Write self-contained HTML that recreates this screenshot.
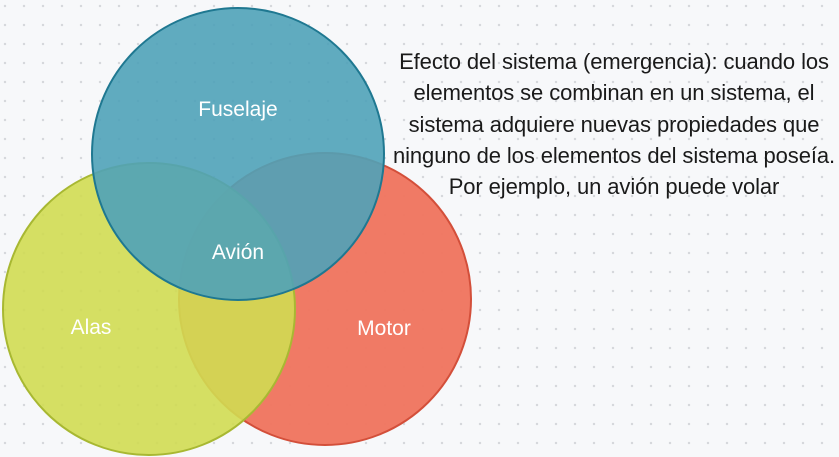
<!DOCTYPE html>
<html><head><style>
html,body{margin:0;padding:0;}
body{width:839px;height:457px;overflow:hidden;background-color:#f7f8fa;
background-image:radial-gradient(circle,#d6d8dc 1.1px,transparent 1.4px);
background-size:19px 19px;background-position:-4.5px -3.5px;position:relative;font-family:"Liberation Sans",sans-serif;}
svg{position:absolute;left:0;top:0;}
.t{position:absolute;left:364px;top:46px;width:500px;text-align:center;font-size:22px;line-height:31.3px;color:#1a1a1a;letter-spacing:-0.1px;}
</style></head><body>
<svg width="839" height="457">
<circle cx="325" cy="299" r="146" fill="#f07660" fill-opacity="0.97" stroke="#d34f3a" stroke-width="2"/>
<circle cx="149" cy="309" r="146" fill="#d0dc52" fill-opacity="0.9" stroke="#a8b832" stroke-width="2"/>
<circle cx="238" cy="154" r="146" fill="#4fa2b8" fill-opacity="0.9" stroke="#1f7891" stroke-width="2"/>
<g fill="#fff" font-family="Liberation Sans,sans-serif" font-size="21" text-anchor="middle">
<text x="238" y="116">Fuselaje</text>
<text x="238" y="259">Avión</text>
<text x="91" y="334">Alas</text>
<text x="384" y="335">Motor</text>
</g>
</svg>
<div class="t">Efecto del sistema (emergencia): cuando los<br>elementos se combinan en un sistema, el<br>sistema adquiere nuevas propiedades que<br>ninguno de los elementos del sistema poseía.<br>Por ejemplo, un avión puede volar</div>
</body></html>
